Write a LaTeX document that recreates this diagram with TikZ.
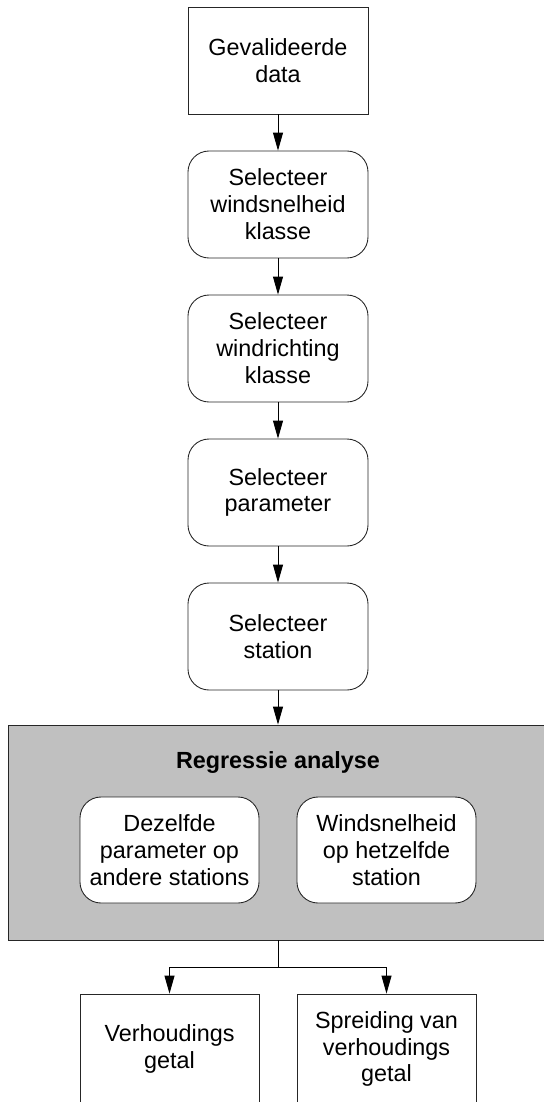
\documentclass[tikz,border=0pt]{standalone}
\usepackage{fontspec}
\setmainfont{Liberation Sans}
\usepackage{tikz}
\usetikzlibrary{arrows.meta,backgrounds}

\tikzset{
  databox/.style={draw=black!85, line width=0.5pt, fill=white, minimum width=3.6cm, minimum height=2.14cm, align=center, inner sep=0pt, font=\fontsize{13.3}{15.3}\selectfont},
  stepbox/.style={databox, rounded corners=0.42cm},
  flow/.style={-{Triangle[length=0.36cm,width=0.2cm]}, line width=0.5pt}
}

\begin{document}
\begin{tikzpicture}
\useasboundingbox (0cm,0cm) rectangle (10.88cm,-22.04cm);

\node [databox] (data) at (5.56cm,-1.21cm) {Gevalideerde\\data};
\node [stepbox] (wspeed) at (5.56cm,-4.09cm) {Selecteer\\windsnelheid\\klasse};
\node [stepbox] (wdir) at (5.56cm,-6.97cm) {Selecteer\\windrichting\\klasse};
\node [stepbox] (param) at (5.56cm,-9.85cm) {Selecteer\\parameter};
\node [stepbox] (stat) at (5.56cm,-12.73cm) {Selecteer\\station};

\node [draw=black!85, line width=0.5pt, fill={rgb,255:red,192;green,192;blue,192}, minimum width=11cm, minimum height=4.3cm, inner sep=0pt] (regr) at (5.66cm,-16.65cm) {};
\node [font=\fontsize{13.3}{15.3}\selectfont\bfseries] (regrtitle) at (5.56cm,-15.24cm) {Regressie analyse};
\node [stepbox, minimum width=3.58cm, minimum height=2.12cm] (other) at (3.39cm,-17.0cm) {Dezelfde\\parameter op\\andere stations};
\node [stepbox, minimum width=3.58cm, minimum height=2.12cm] (same) at (7.73cm,-17.0cm) {Windsnelheid\\op hetzelfde\\station};

\node [databox, minimum width=3.58cm, minimum height=2.2cm] (ratio) at (3.39cm,-20.98cm) {Verhoudings\\getal};
\node [databox, minimum width=3.58cm, minimum height=2.2cm] (spread) at (7.73cm,-20.98cm) {Spreiding van\\verhoudings\\getal};

\draw [flow] (data) -- (wspeed);
\draw [flow] (wspeed) -- (wdir);
\draw [flow] (wdir) -- (param);
\draw [flow] (param) -- (stat);
\draw [flow] (stat) -- (stat |- regr.north);

\coordinate (split) at (5.56cm,-19.34cm);
\draw [line width=0.5pt] (split |- regr.south) -- (split);
\draw [flow] (split) -| (ratio.north);
\draw [flow] (split) -| (spread.north);

\end{tikzpicture}
\end{document}
